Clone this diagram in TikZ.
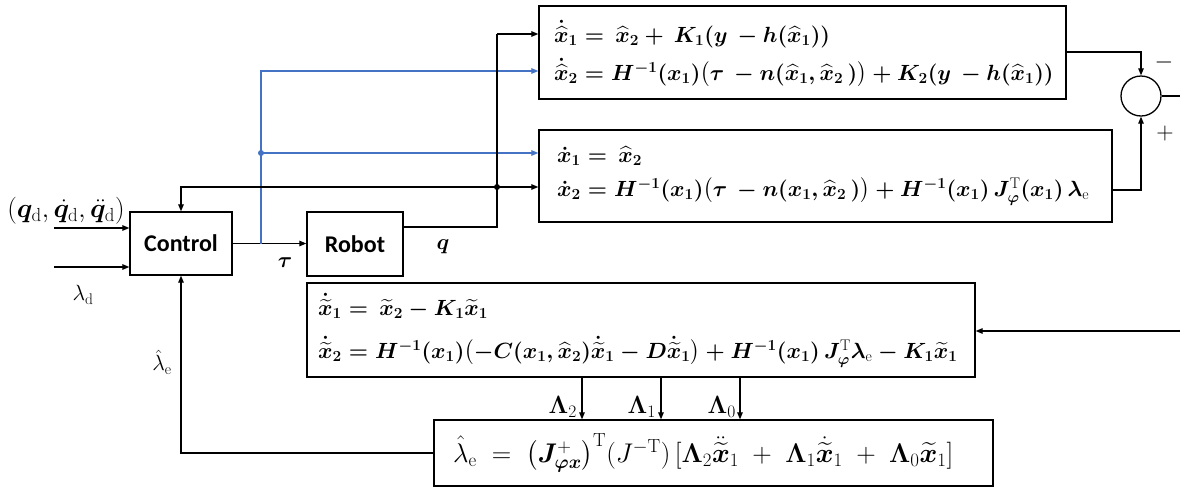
\RequirePackage{fix-cm}
\documentclass[tikz,border=0pt]{standalone}
\usepackage{amsmath,bm}
\usepackage{fontspec}
\newfontfamily\carlito{Carlito}
\usetikzlibrary{arrows.meta}
\definecolor{fbblue}{HTML}{4472C4}
\begin{document}
\begin{tikzpicture}[x=1pt,y=-1pt,
  blk/.style={draw, line width=1.3pt, inner sep=0pt},
  conn/.style={line width=1.2pt, -{Triangle[length=7pt,width=5.5pt]}},
  bconn/.style={conn, draw=fbblue},
  wire/.style={line width=1.2pt},
  eq/.style={anchor=base west, inner sep=0pt, font=\fontsize{22}{26}\selectfont\boldmath},
  eqn/.style={anchor=base west, inner sep=0pt, font=\fontsize{27}{30}\selectfont},
  lbl/.style={inner sep=0pt, font=\fontsize{22}{26}\selectfont},
  biglbl/.style={inner sep=0pt, font=\fontsize{27}{30}\selectfont},
  lamlbl/.style={anchor=east, inner sep=0pt, font=\fontsize{25}{28}\selectfont},
  blklbl/.style={font=\fontsize{24}{28}\selectfont\carlito\bfseries}]
\useasboundingbox (0,0) rectangle (1180,488);
% blocks
\node[blk, blklbl, minimum width=102pt, minimum height=63pt] (ctl) at (181,243.5) {Control};
\node[blk, blklbl, minimum width=96pt, minimum height=64pt] (rob) at (355,244) {Robot};
\node[blk, minimum width=527pt, minimum height=93pt] (obs1) at (802.5,52.5) {};
\node[blk, minimum width=573pt, minimum height=92pt] (obs2) at (825.5,176) {};
\node[blk, minimum width=668pt, minimum height=94pt] (err) at (641,330) {};
\node[blk, minimum width=559pt, minimum height=66pt] (est) at (713.5,453) {};
\node[draw, circle, line width=1.3pt, minimum size=40pt, inner sep=0pt] (sum) at (1141,96) {};
% equations
\node[eq] (e1a) at (554,42) {$\dot{\widehat{x}}_1 = \,\widehat{x}_2 + \,K_1(y\, - h(\widehat{x}_1))$};
\node[eq] (e1b) at (554,80) {$\dot{\widehat{x}}_2 = H^{-1}(x_1)\bigl(\tau\, - n(\widehat{x}_1, \widehat{x}_2\,)\bigr) + K_2(y\, - h(\widehat{x}_1))$};
\node[eq] (e2a) at (557,162) {$\dot{x}_1 = \,\widehat{x}_2$};
\node[eq] (e2b) at (557,196) {$\dot{x}_2 = H^{-1}(x_1)\bigl(\tau\, - n(x_1, \widehat{x}_2\,)\bigr) + H^{-1}(x_1)\,J_{\varphi}^{\text{T}}(x_1)\,\lambda_{\text{e}}$};
\node[eq] (e3a) at (318,315) {$\dot{\widetilde{x}}_1 = \,\widetilde{x}_2 - K_1\widetilde{x}_1$};
\node[eq] (e3b) at (318,358) {$\dot{\widetilde{x}}_2 = H^{-1}(x_1)\bigl(-C(x_1,\widehat{x}_2)\dot{\widetilde{x}}_1 - D\dot{\widetilde{x}}_1\bigr) + H^{-1}(x_1)\,J_{\varphi}^{\text{T}}\lambda_{\text{e}} - K_1\widetilde{x}_1$};
\node[eqn] (e4) at (453,462) {$\hat{\lambda}_{\text{e}} \;=\; \bigl(\bm{J}_{\bm{\varphi x}}^{+}\bigr)^{\text{T}}(J^{-\text{T}})\,[\bm{\Lambda}_2\ddot{\widetilde{\bm{x}}}_1 \;+\; \bm{\Lambda}_1\dot{\widetilde{\bm{x}}}_1 \;+\; \bm{\Lambda}_0\widetilde{\bm{x}}_1]$};
% labels
\node[biglbl] (lq) at (66,211) {$(\bm{q}_{\text{d}},\dot{\bm{q}}_{\text{d}},\ddot{\bm{q}}_{\text{d}})$};
\node[lbl] (lld) at (83,295) {$\lambda_{\text{d}}$};
\node[lbl] (lle) at (162,362) {$\hat{\lambda}_{\text{e}}$};
\node[lbl] (ltau) at (285,263) {$\bm{\tau}$};
\node[lbl] (lqq) at (443,247) {$\bm{q}$};
\node[lamlbl] (lL2) at (577,407) {$\bm{\Lambda}_2$};
\node[lamlbl] (lL1) at (656,407) {$\bm{\Lambda}_1$};
\node[lamlbl] (lL0) at (736,407) {$\bm{\Lambda}_0$};
\node[lbl, font=\fontsize{24}{28}\selectfont] (lminus) at (1164,62) {$-$};
\node[lbl, font=\fontsize{24}{28}\selectfont] (lplus) at (1165,133) {$+$};
% coordinates
\coordinate (in1) at (54,228);
\coordinate (in2) at (54,267);
\coordinate (bt) at (261,243.5);
\coordinate (btop) at (261,71);
\coordinate (bmid) at (261,153);
\coordinate (qb) at (497,227);
\coordinate (qdot) at (497,187);
\coordinate (qtop) at (497,34);
\coordinate (o1) at (1141,52);
\coordinate (o2) at (1141,190);
\coordinate (sout) at (1180,96);
\coordinate (ein) at (1180,331);
\coordinate (l2) at (582,0);
\coordinate (l1) at (661,0);
\coordinate (l0) at (740,0);
% connectors
\draw[conn] (in1) -- (in1 -| ctl.west);
\draw[conn] (in2) -- (in2 -| ctl.west);
\draw[conn] (ctl.east) -- (rob.west |- ctl.east);
\draw[bconn] (bt) -- (btop) -- (btop -| obs1.west);
\draw[bconn] (bmid) -- (bmid -| obs2.west);
\fill[fbblue] (bmid) circle (3pt);
\draw[wire] (rob.east |- qb) -- (qb) -- (qtop);
\draw[conn] (qtop) -- (qtop -| obs1.west);
\draw[conn] (qdot) -- (qdot -| obs2.west);
\draw[conn] (qdot) -- (qdot -| ctl.north) -- (ctl.north);
\fill (qdot) circle (3pt);
\draw[conn] (obs1.east |- o1) -- (o1) -- (sum.north);
\draw[conn] (obs2.east |- o2) -- (o2) -- (sum.south);
\draw[wire] (sum.east) -- (sout);
\draw[conn] (ein) -- (ein -| err.east);
\draw[conn] (l2 |- err.south) -- (l2 |- est.north);
\draw[conn] (l1 |- err.south) -- (l1 |- est.north);
\draw[conn] (l0 |- err.south) -- (l0 |- est.north);
\draw[conn] (est.west) -- (est.west -| ctl.south) -- (ctl.south);
\end{tikzpicture}
\end{document}
